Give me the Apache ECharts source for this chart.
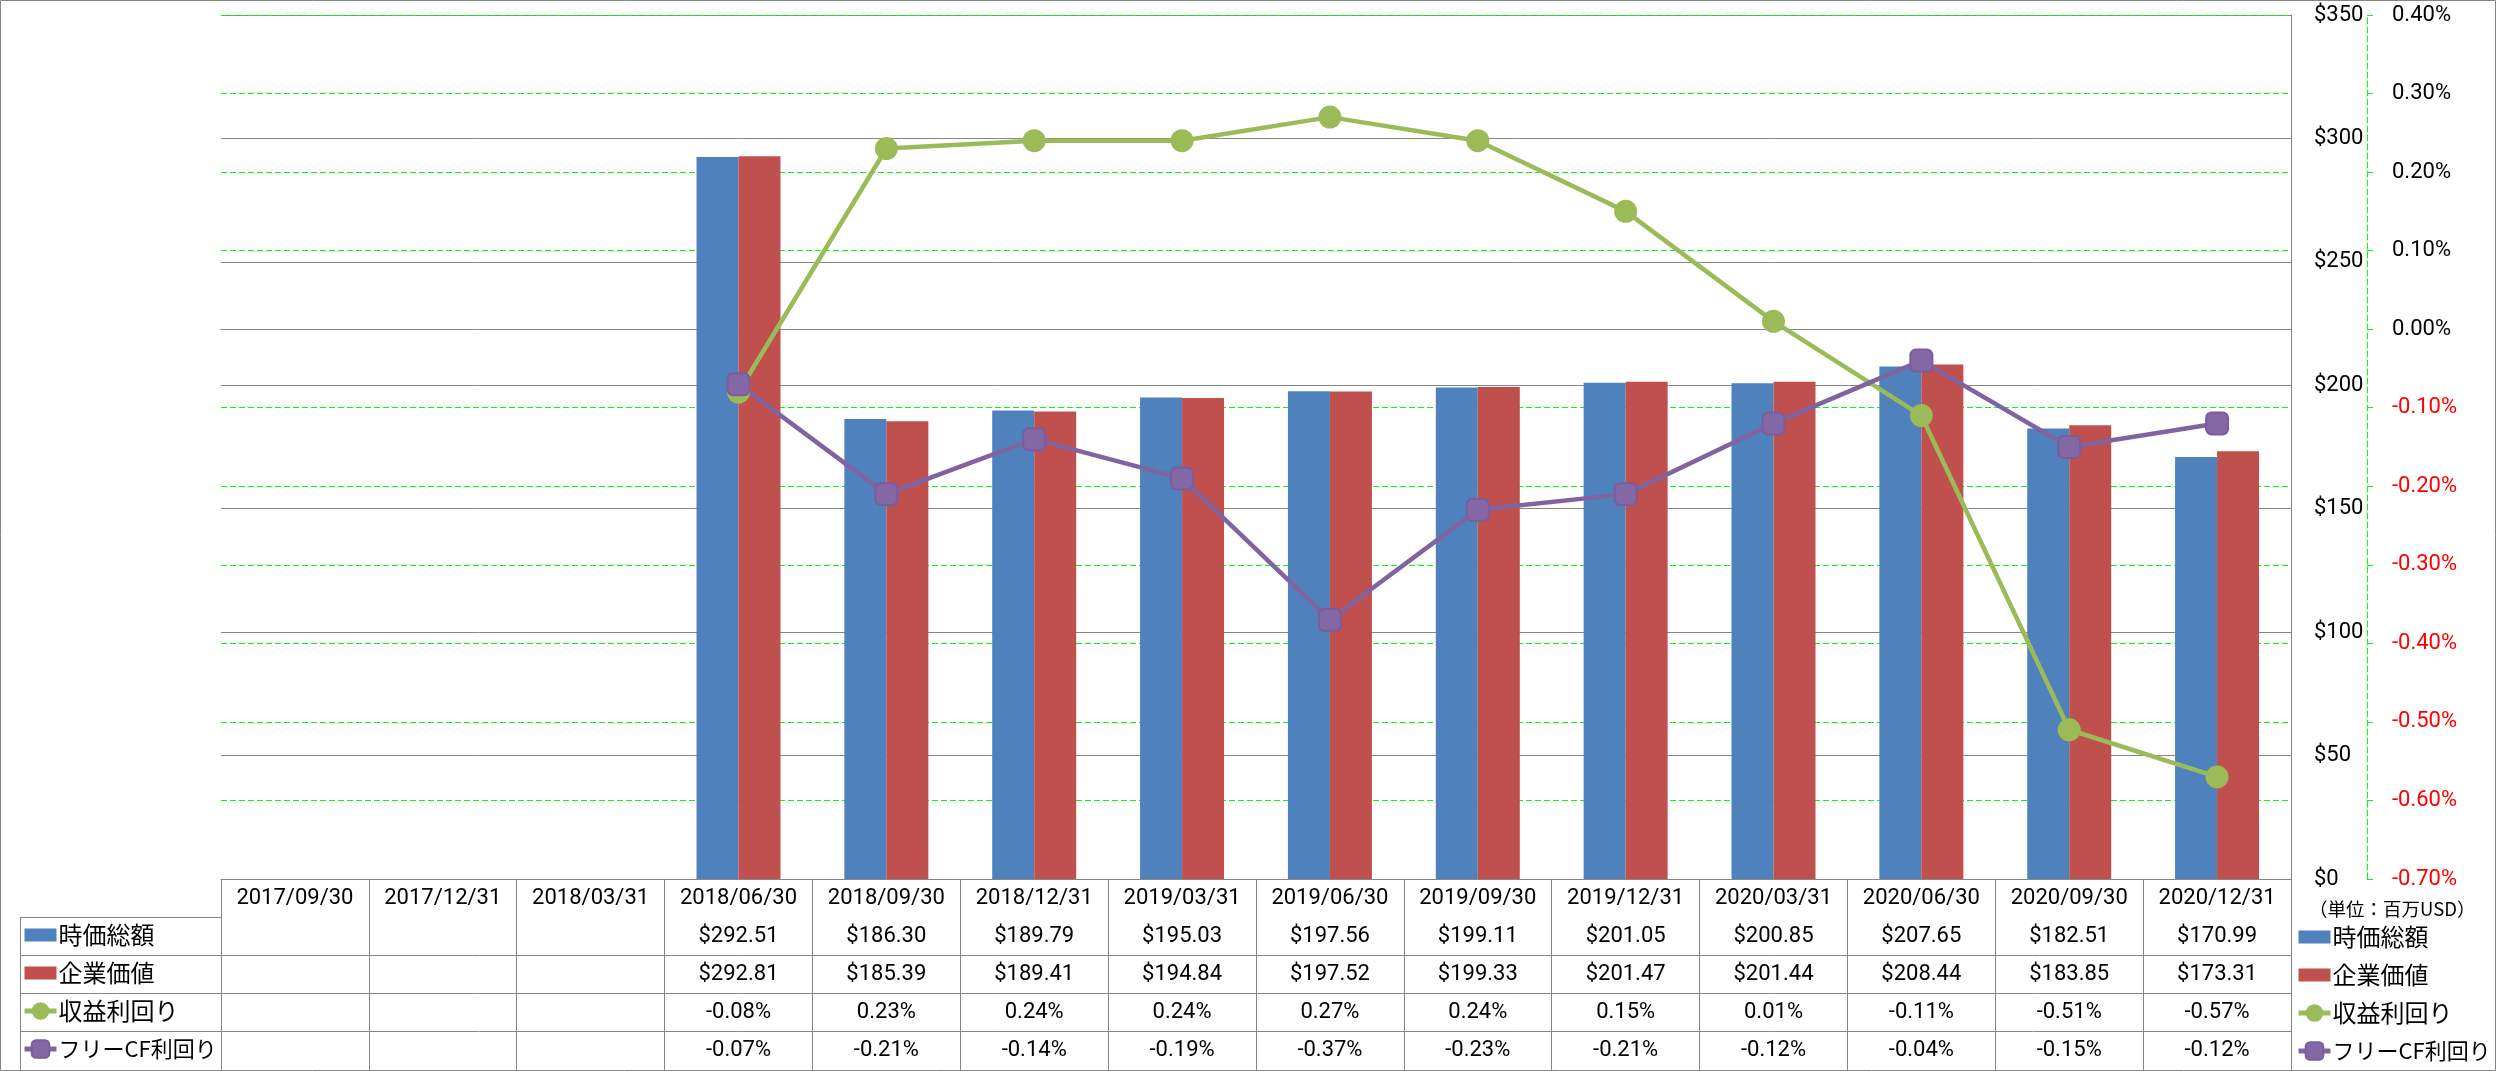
<!DOCTYPE html>
<html><head><meta charset="utf-8">
<script src="https://cdn.jsdelivr.net/npm/echarts@6/dist/echarts.min.js"></script>
<style>html,body{margin:0;padding:0;background:#fff}#c{width:2496px;height:1071px}</style>
</head><body><div id="c"></div>
<script>
const categories = ['2017/09/30','2017/12/31','2018/03/31','2018/06/30','2018/09/30','2018/12/31','2019/03/31','2019/06/30','2019/09/30','2019/12/31','2020/03/31','2020/06/30','2020/09/30','2020/12/31'];
const marketCap = [null,null,null,292.51,186.30,189.79,195.03,197.56,199.11,201.05,200.85,207.65,182.51,170.99];
const enterpriseValue = [null,null,null,292.81,185.39,189.41,194.84,197.52,199.33,201.47,201.44,208.44,183.85,173.31];
const earningsYield = [null,null,null,-0.08,0.23,0.24,0.24,0.27,0.24,0.15,0.01,-0.11,-0.51,-0.57];
const fcfYield = [null,null,null,-0.07,-0.21,-0.14,-0.19,-0.37,-0.23,-0.21,-0.12,-0.04,-0.15,-0.12];
const seriesNames = ['時価総額','企業価値','収益利回り','フリーCF利回り'];
const usdAxis = {min:0, max:350, interval:50};
const pctAxis = {min:-0.7, max:0.4, interval:0.1};
const unitLabel = '（単位：百万USD）';

const GRAY = '#868686';
const GREEN_GRID = '#00FF00';
const NUM_FONT = 'Roboto';
const JP_FONT = '"Noto Sans CJK JP"';
const COLORS = ['#4F81BD','#C0504D','#9BBB59','#8064A2'];
const ROW_H = 38;
const fmtUsd = v => '$' + v.toFixed(2);
const fmtPct = v => v.toFixed(2) + '%';

function rowAxis(k, arr, fmt) {
  return {
    type:'category', data: categories, gridIndex:0, position:'bottom', offset: ROW_H*k,
    axisLine:{show:true, lineStyle:{color:GRAY, width:1}},
    axisTick:{show:false}, splitLine:{show:false},
    axisLabel:{interval:0, margin:0, lineHeight:ROW_H, fontSize:22, fontFamily:NUM_FONT, color:'#000',
      formatter:(v, i) => arr[i] == null ? '' : fmt(arr[i])}
  };
}

const barIcon = 'path://M0,0M0,4.5L32,4.5L32,17.5L0,17.5ZM32,22';
const legendData = [
  {name: seriesNames[0], icon: barIcon},
  {name: seriesNames[1], icon: barIcon},
  {name: seriesNames[2]},
  {name: seriesNames[3], textStyle:{fontSize:22}}
];
function legendAt(left, top) {
  return {
    orient:'vertical', left:left, top:top, padding:0, itemGap:0,
    itemWidth:32, itemHeight:22, selectedMode:false,
    lineStyle:{width:5},
    textStyle:{fontSize:24, lineHeight:ROW_H, fontFamily:JP_FONT, color:'#000', padding:[0,0,0,-3]},
    data: legendData
  };
}

const graphics = [
  {type:'rect', silent:true, z:-10, shape:{x:0.5, y:0.5, width:2495, height:1070}, style:{fill:'none', stroke:GRAY, lineWidth:1}},
  {type:'line', silent:true, shape:{x1:20.5, y1:917, x2:20.5, y2:1070}, style:{stroke:GRAY, lineWidth:1}},
  {type:'text', silent:true, x:2309, y:909, style:{text:unitLabel, fontSize:18.5, fontFamily:JP_FONT, fill:'#000', verticalAlign:'middle'}}
];
for (let k = 0; k < 4; k++) {
  graphics.push({type:'line', silent:true, shape:{x1:20, y1:917.5+ROW_H*k, x2:221, y2:917.5+ROW_H*k}, style:{stroke:GRAY, lineWidth:1}});
}

const chart = echarts.init(document.getElementById('c'), null, {renderer:'canvas'});
chart.setOption({
  animation:false,
  backgroundColor:'#fff',
  grid:{left:221, top:15, width:2070, height:864, containLabel:false},
  legend:[legendAt(22, 916), legendAt(2296, 918)],
  graphic: graphics,
  xAxis:[
    {type:'category', data:categories, position:'bottom', boundaryGap:true,
      axisLine:{show:true, lineStyle:{color:GRAY, width:1}},
      axisTick:{show:true, interval:0, length:191, lineStyle:{color:GRAY, width:1}},
      axisLabel:{interval:0, margin:0, lineHeight:ROW_H, fontSize:22, fontFamily:NUM_FONT, color:'#000'},
      splitLine:{show:false}},
    rowAxis(1, marketCap, fmtUsd),
    rowAxis(2, enterpriseValue, fmtUsd),
    rowAxis(3, earningsYield, fmtPct),
    rowAxis(4, fcfYield, fmtPct)
  ],
  yAxis:[
    {type:'value', position:'right', min:usdAxis.min, max:usdAxis.max, interval:usdAxis.interval,
      axisLine:{show:true, lineStyle:{color:GRAY, width:1}},
      axisTick:{show:false},
      axisLabel:{margin:23, fontSize:22, fontFamily:NUM_FONT, color:'#000', formatter:v => '$' + v},
      splitLine:{show:true, lineStyle:{color:GRAY, width:1}}},
    {type:'value', position:'right', offset:76, min:pctAxis.min, max:pctAxis.max, interval:pctAxis.interval,
      axisLine:{show:true, lineStyle:{color:GREEN_GRID, width:1, type:[6,3]}},
      axisTick:{show:true, inside:false, length:8, lineStyle:{color:GREEN_GRID, width:1, type:[6,3]}},
      axisLabel:{margin:25, fontSize:22, fontFamily:NUM_FONT,
        color:v => parseFloat(v) < -1e-9 ? '#FF0000' : '#000',
        formatter:v => v.toFixed(2) + '%'},
      splitLine:{show:true, lineStyle:{color:GREEN_GRID, width:1.2, type:[6,3]}}}
  ],
  series:[
    {name:seriesNames[0], type:'bar', data:marketCap, yAxisIndex:0, barWidth:42, barGap:'0%', itemStyle:{color:COLORS[0]}},
    {name:seriesNames[1], type:'bar', data:enterpriseValue, yAxisIndex:0, barWidth:42, barGap:'0%', itemStyle:{color:COLORS[1]}},
    {name:seriesNames[2], type:'line', data:earningsYield, yAxisIndex:1, symbol:'circle', symbolSize:23,
      lineStyle:{color:COLORS[2], width:4.5}, itemStyle:{color:COLORS[2]}},
    {name:seriesNames[3], type:'line', data:fcfYield, yAxisIndex:1, symbol:'roundRect', symbolSize:22,
      lineStyle:{color:COLORS[3], width:4.5}, itemStyle:{color:'#8468A6', borderColor:'#7A5D9C', borderWidth:2}}
  ]
});
</script></body></html>
